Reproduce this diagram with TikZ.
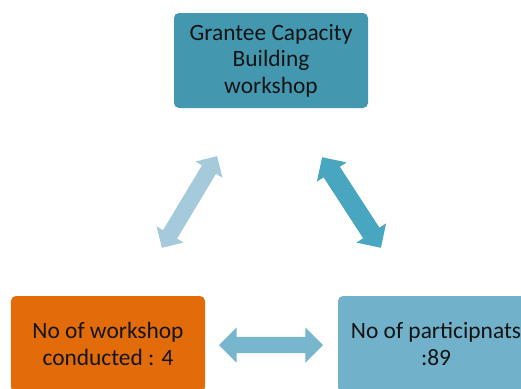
\documentclass[tikz,border=0pt]{standalone}
\usepackage{fontspec}
\setmainfont{Carlito}
\usetikzlibrary{shapes.arrows}
\definecolor{topbox}{HTML}{4398B0}
\definecolor{leftbox}{HTML}{E36C0A}
\definecolor{rightbox}{HTML}{71B1C9}
\definecolor{harrow}{HTML}{77B6CC}
\definecolor{larrow}{HTML}{A5CADB}
\definecolor{rarrow}{HTML}{48A6C0}
\definecolor{txt}{HTML}{141414}
\tikzset{
  box/.style={rounded corners=5bp, minimum width=194bp, text=txt, align=center,
    font=\fontsize{23.5}{26.5}\selectfont, inner sep=0pt},
  blockarrow/.style={double arrow, draw=none, inner xsep=0pt, text height=0pt, text depth=0pt}
}
\begin{document}
\begin{tikzpicture}[x=1bp,y=-1bp]
\useasboundingbox (0,0) rectangle (521,388);
\clip (0,0) rectangle (521,388);
\node[box, fill=topbox, minimum height=95bp] (top) at (271,60.5) {Grantee Capacity\\Building\\workshop};
\node[box, fill=leftbox, minimum height=96bp] (left) at (108,344) {No of workshop\\conducted : 4};
\node[box, fill=rightbox, minimum height=96bp, minimum width=196bp] (right) at (436,344) {No of participnats\\:89};
\node[blockarrow, fill=harrow, minimum height=104bp, inner ysep=8bp,
  double arrow head extend=9.5bp] (h) at (271,345) {};
\node[blockarrow, fill=larrow, minimum height=107bp, inner ysep=8bp,
  double arrow head extend=7.5bp, rotate=59] (l) at (189.5,202) {};
\node[blockarrow, fill=rarrow, minimum height=108bp, inner ysep=9.5bp,
  double arrow head extend=8bp, rotate=-57] (r) at (351.5,202.5) {};
\end{tikzpicture}
\end{document}
